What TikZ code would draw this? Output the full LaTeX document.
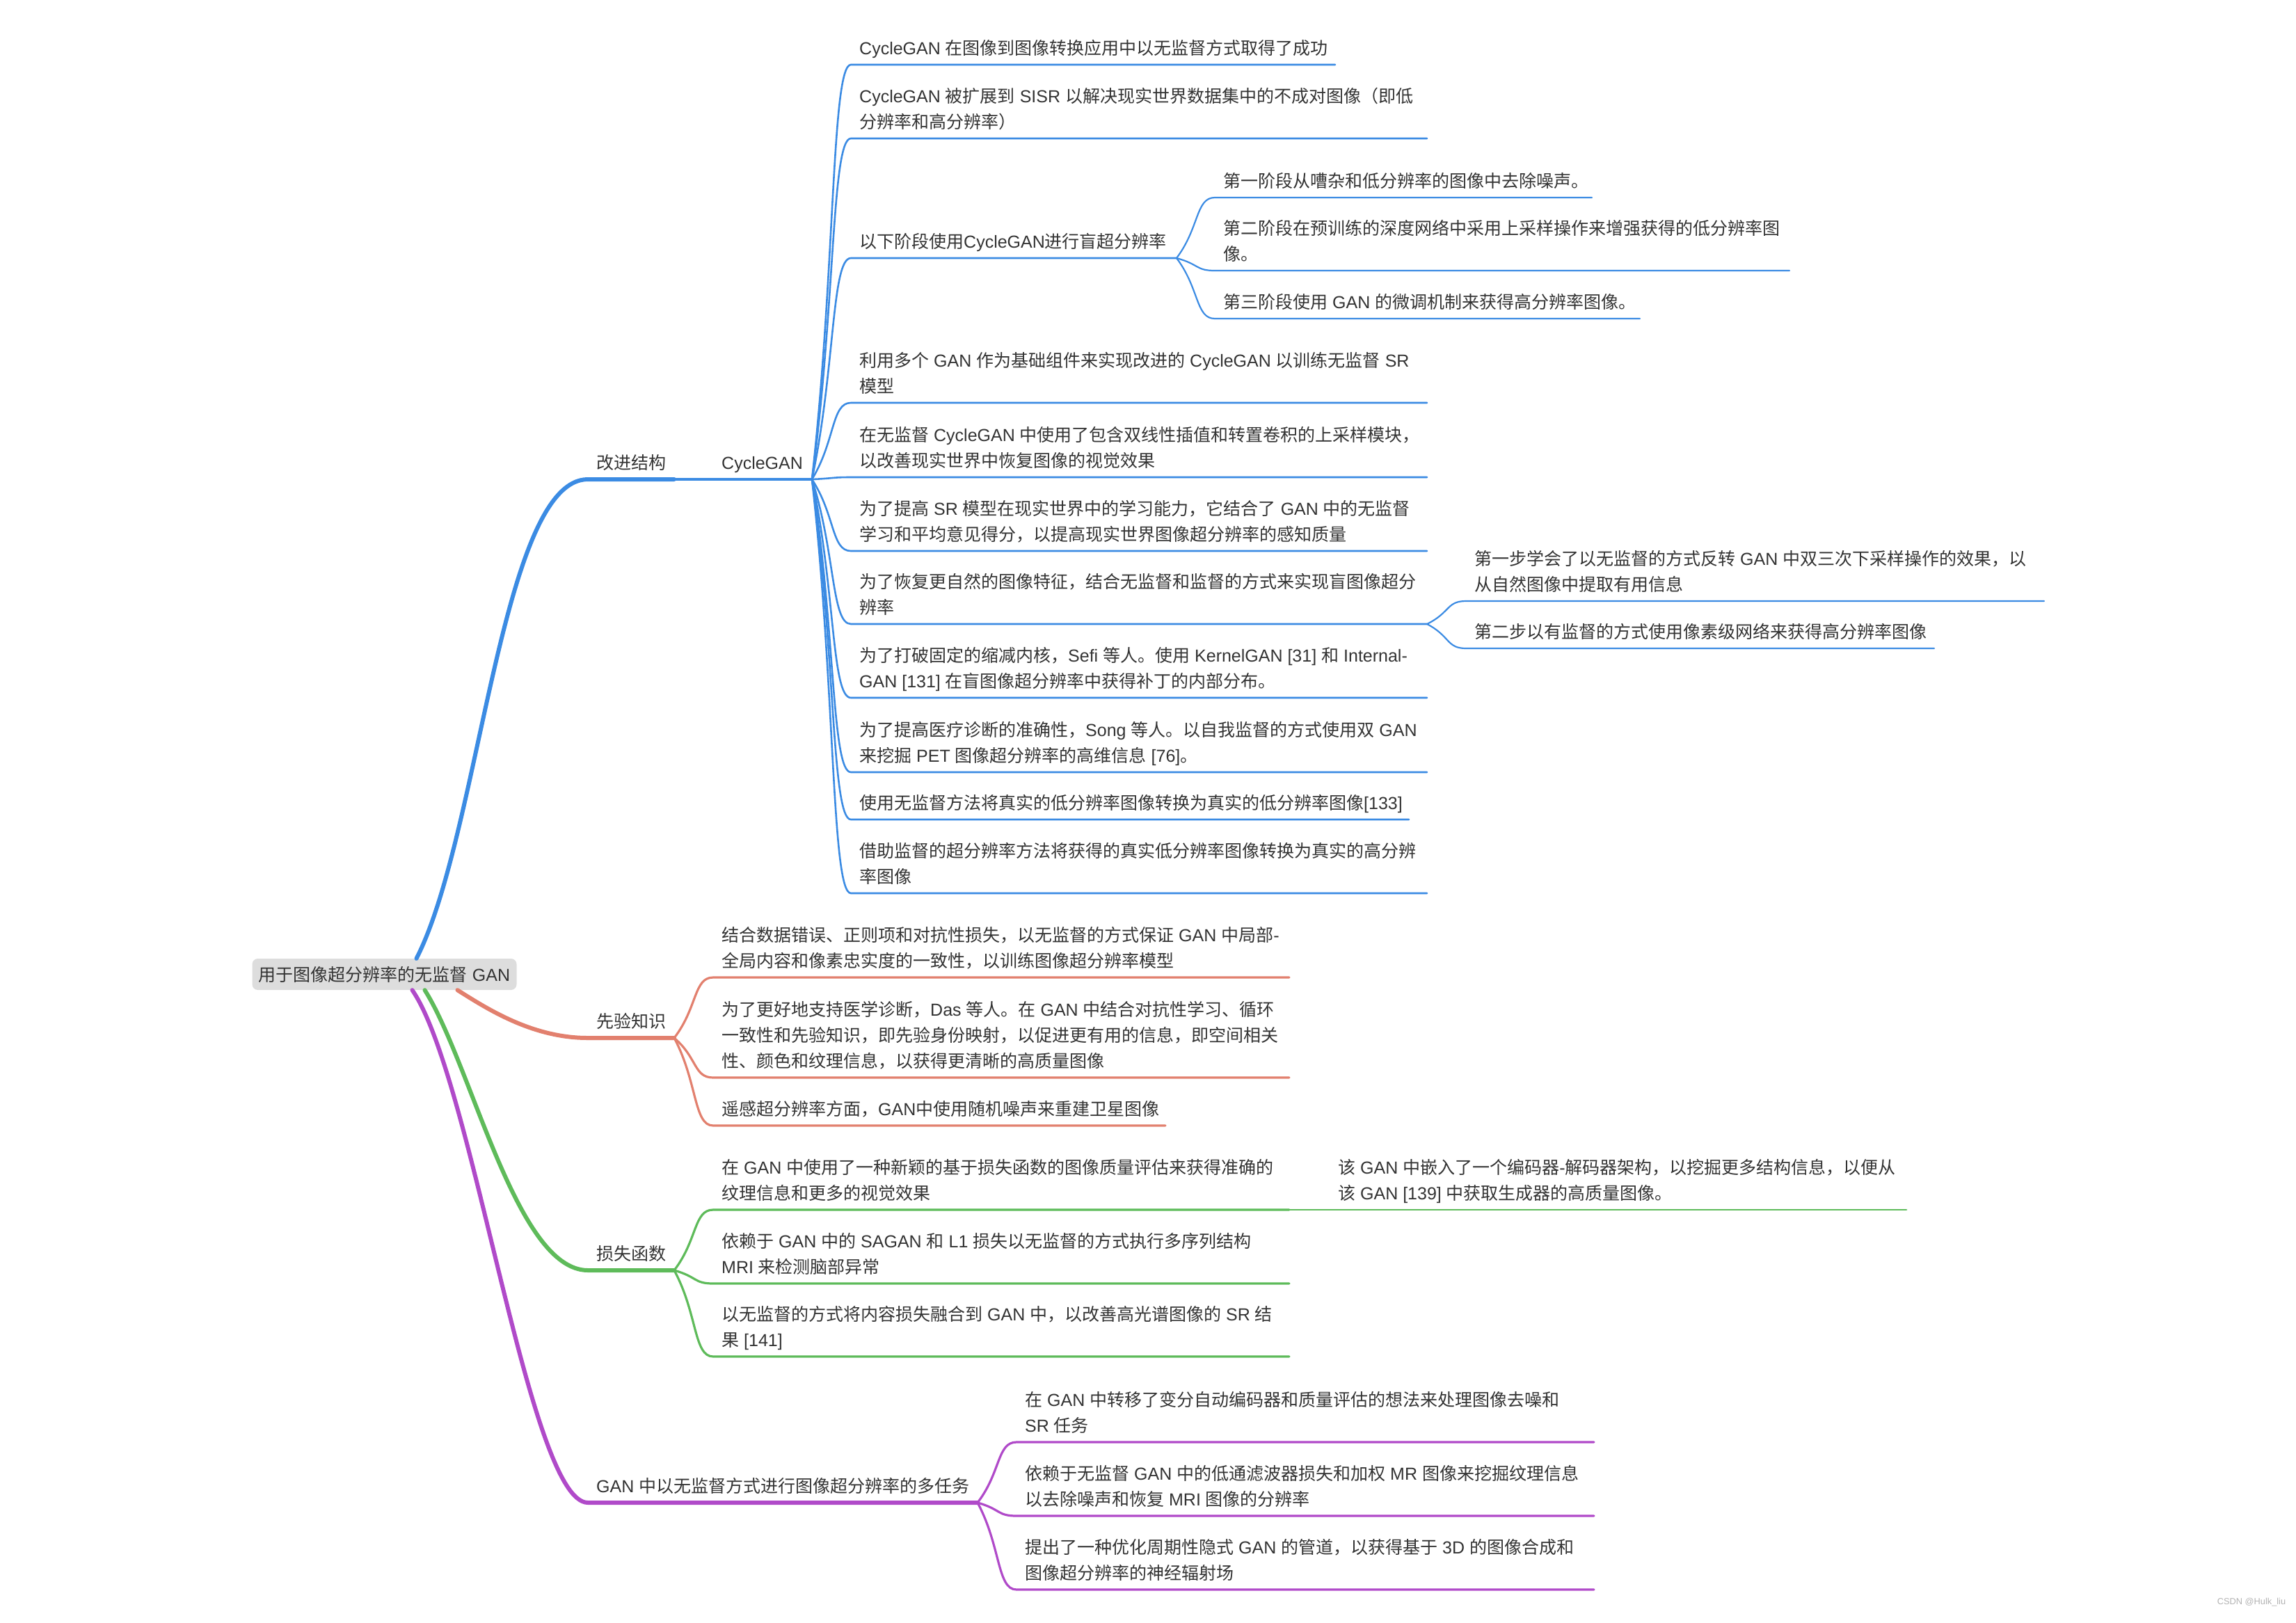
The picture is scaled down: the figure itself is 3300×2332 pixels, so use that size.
\documentclass[tikz,border=0pt]{standalone}
\usepackage{fontspec}
\setmainfont{Liberation Sans}
\newfontfamily\latinfont{Liberation Sans}
\newfontfamily\cjkfont{Noto Sans CJK SC}
\usetikzlibrary{calc}
% switch to the CJK font for Chinese characters
\newXeTeXintercharclass\cjkclass
\newcount\cjkcnt
\def\setcjkrange#1#2{\cjkcnt=#1\relax
  \loop\XeTeXcharclass\cjkcnt=\cjkclass\relax
  \ifnum\cjkcnt<#2\relax\advance\cjkcnt by 1\relax\repeat}
\setcjkrange{"3000}{"303F}
\setcjkrange{"4E00}{"9FFF}
\setcjkrange{"FF00}{"FFEF}
\XeTeXinterchartoks 0 \cjkclass = {\cjkfont}
\XeTeXinterchartoks 4095 \cjkclass = {\cjkfont}
\XeTeXinterchartoks \cjkclass 0 = {\latinfont}
\XeTeXinterchartoks \cjkclass 4095 = {\latinfont}
\XeTeXinterchartokenstate=1
\definecolor{cblue}{RGB}{59,139,227}
\definecolor{csalmon}{RGB}{226,128,110}
\definecolor{cgreen}{RGB}{94,187,90}
\definecolor{cpurple}{RGB}{176,74,201}
\definecolor{rootgray}{RGB}{221,221,221}
\definecolor{ink}{RGB}{51,51,51}
\begin{document}
\begin{tikzpicture}[x=1pt, y=-1pt]
\tikzstyle{txt}=[anchor=south west, inner xsep=12pt, inner ysep=14.5pt, text depth=0pt,
                 align=left, text=ink, font=\fontsize{25}{36.8}\selectfont]
\tikzstyle{lf}=[txt]
\tikzstyle{root}=[fill=rootgray, rounded corners=8pt, minimum width=380pt, minimum height=45pt,
                  inner sep=0pt, text=ink, font=\fontsize{25}{30}\selectfont]
\tikzstyle{lvl1}=[line width=6pt, line cap=round]
\tikzstyle{lvl2}=[line width=3.2pt, line cap=round]
\tikzstyle{lvl3}=[line width=2.6pt, line cap=round]
\tikzstyle{lvl4}=[line width=2.2pt, line cap=round]
\tikzstyle{link}=[to path={let \p1=(\tikztostart), \p2=(\tikztotarget) in
   .. controls ({\x1+0.6*(\x2-\x1)},{\y1+0.5*(\y2-\y1)}) and ({0.5*(\x1+\x2)},\y2) .. (\p2)}]
\useasboundingbox (0,0) rectangle (3300,2332);

\node[root] (root) at (552.5,1400.5) {用于图像超分辨率的无监督 GAN};

% first level
\node[txt] (gj) at (845,689) {改进结构};
\node[txt] (cyc) at (1025,689) {CycleGAN};
\node[txt] (xy) at (845,1492) {先验知识};
\node[txt] (ss) at (845,1826) {损失函数};
\node[txt] (dr) at (845,2160) {GAN 中以无监督方式进行图像超分辨率的多任务};

\draw[lvl1, cblue] ([xshift=46pt]root.north) .. controls (690,1200) and (720,689) .. (gj.south west) -- ++(124,0) coordinate (gje);
\draw[lvl1, csalmon] ([xshift=105pt]root.south) .. controls (700,1450) and (765,1492) .. (xy.south west) -- ++(124,0) coordinate (xye);
\draw[lvl1, cgreen] ([xshift=58pt]root.south) .. controls (678,1530) and (742,1826) .. (ss.south west) -- ++(124,0) coordinate (sse);
\draw[lvl1, cpurple] ([xshift=40pt]root.south) .. controls (680,1550) and (760,2160) .. (dr.south west) -- ++(560,0) coordinate (dre);
\draw[lvl2, cblue] (gje) -- (cyc.south west) -- ++(142,0) coordinate (cyce);

% CycleGAN
\node[lf] (c1) at (1223,93) {CycleGAN 在图像到图像转换应用中以无监督方式取得了成功};
\node[lf] (c2) at (1223,199) {CycleGAN 被扩展到 SISR 以解决现实世界数据集中的不成对图像（即低\\分辨率和高分辨率）};
\node[lf] (c3) at (1223,371) {以下阶段使用CycleGAN进行盲超分辨率};
\node[lf] (c4) at (1223,579) {利用多个 GAN 作为基础组件来实现改进的 CycleGAN 以训练无监督 SR\\模型};
\node[lf] (c5) at (1223,686) {在无监督 CycleGAN 中使用了包含双线性插值和转置卷积的上采样模块，\\以改善现实世界中恢复图像的视觉效果};
\node[lf] (c6) at (1223,792) {为了提高 SR 模型在现实世界中的学习能力，它结合了 GAN 中的无监督\\学习和平均意见得分，以提高现实世界图像超分辨率的感知质量};
\node[lf] (c7) at (1223,897) {为了恢复更自然的图像特征，结合无监督和监督的方式来实现盲图像超分\\辨率};
\node[lf] (c8) at (1223,1003) {为了打破固定的缩减内核，Sefi 等人。使用 KernelGAN [31] 和 Internal-\\GAN [131] 在盲图像超分辨率中获得补丁的内部分布。};
\node[lf] (c9) at (1223,1110) {为了提高医疗诊断的准确性，Song 等人。以自我监督的方式使用双 GAN\\来挖掘 PET 图像超分辨率的高维信息 [76]。};
\node[lf] (c10) at (1223,1178) {使用无监督方法将真实的低分辨率图像转换为真实的低分辨率图像[133]};
\node[lf] (c11) at (1223,1284) {借助监督的超分辨率方法将获得的真实低分辨率图像转换为真实的高分辨\\率图像};
\foreach \kid/\w in {c1/696,c2/828,c3/468,c4/828,c5/828,c6/828,c7/828,c8/828,c9/828,c10/802,c11/828}
  \draw[lvl3, cblue, link] (cyce) to (\kid.south west) -- ++(\w,0) coordinate (\kid e);

\node[lf] (s1) at (1746,284) {第一阶段从嘈杂和低分辨率的图像中去除噪声。};
\node[lf] (s2) at (1746,389) {第二阶段在预训练的深度网络中采用上采样操作来增强获得的低分辨率图\\像。};
\node[lf] (s3) at (1746,458) {第三阶段使用 GAN 的微调机制来获得高分辨率图像。};
\foreach \kid/\w in {s1/542,s2/826,s3/611}
  \draw[lvl4, cblue, link] (c3e) to (\kid.south west) -- ++(\w,0);

\node[lf] (t1) at (2107,864) {第一步学会了以无监督的方式反转 GAN 中双三次下采样操作的效果，以\\从自然图像中提取有用信息};
\node[lf] (t2) at (2107,932) {第二步以有监督的方式使用像素级网络来获得高分辨率图像};
\foreach \kid/\w in {t1/831,t2/673}
  \draw[lvl4, cblue, link] (c7e) to (\kid.south west) -- ++(\w,0);

% prior knowledge
\node[lf] (p1) at (1025,1405) {结合数据错误、正则项和对抗性损失，以无监督的方式保证 GAN 中局部-\\全局内容和像素忠实度的一致性，以训练图像超分辨率模型};
\node[lf] (p2) at (1025,1549) {为了更好地支持医学诊断，Das 等人。在 GAN 中结合对抗性学习、循环\\一致性和先验知识，即先验身份映射，以促进更有用的信息，即空间相关\\性、颜色和纹理信息，以获得更清晰的高质量图像};
\node[lf] (p3) at (1025,1618) {遥感超分辨率方面，GAN中使用随机噪声来重建卫星图像};
\foreach \kid/\w in {p1/828,p2/828,p3/650}
  \draw[lvl2, csalmon, link] (xye) to (\kid.south west) -- ++(\w,0);

% loss functions
\node[lf] (l1) at (1025,1739) {在 GAN 中使用了一种新颖的基于损失函数的图像质量评估来获得准确的\\纹理信息和更多的视觉效果};
\node[lf] (l2) at (1025,1845) {依赖于 GAN 中的 SAGAN 和 L1 损失以无监督的方式执行多序列结构\\MRI 来检测脑部异常};
\node[lf] (l3) at (1025,1950) {以无监督的方式将内容损失融合到 GAN 中，以改善高光谱图像的 SR 结\\果 [141]};
\foreach \kid/\w in {l1/828,l2/828,l3/828}
  \draw[lvl2, cgreen, link] (sse) to (\kid.south west) -- ++(\w,0) coordinate (\kid e);
\node[lf] (ls) at (1911,1739) {该 GAN 中嵌入了一个编码器-解码器架构，以挖掘更多结构信息，以便从\\该 GAN [139] 中获取生成器的高质量图像。};
\draw[lvl3, cgreen] (l1e) -- (ls.south west) -- ++(829,0);

% multi-task
\node[lf] (m1) at (1461,2073) {在 GAN 中转移了变分自动编码器和质量评估的想法来处理图像去噪和\\SR 任务};
\node[lf] (m2) at (1461,2179) {依赖于无监督 GAN 中的低通滤波器损失和加权 MR 图像来挖掘纹理信息\\以去除噪声和恢复 MRI 图像的分辨率};
\node[lf] (m3) at (1461,2285) {提出了一种优化周期性隐式 GAN 的管道，以获得基于 3D 的图像合成和\\图像超分辨率的神经辐射场};
\foreach \kid in {m1,m2,m3}
  \draw[lvl2, cpurple, link] (dre) to (\kid.south west) -- ++(830,0);

\node[font=\fontsize{12.8}{14}\selectfont, text=gray!60] (wm) at (3236,2303) {CSDN @Hulk\_liu};
\end{tikzpicture}
\end{document}
